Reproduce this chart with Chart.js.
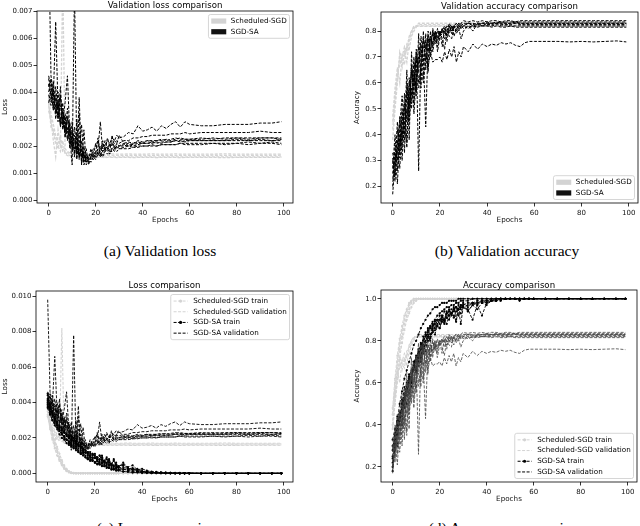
<!DOCTYPE html>
<html><head><meta charset="utf-8">
<script src="https://cdn.jsdelivr.net/npm/chart.js"></script>
<style>
html,body{margin:0;padding:0;background:#fff;overflow:hidden;width:640px;height:526px;position:relative;}
canvas{position:absolute;}
.cap{position:absolute;font-family:"Liberation Serif","Times New Roman",serif;font-size:15.5px;color:#000;white-space:nowrap;transform:translate(-50%,-50%);line-height:1;}
</style></head><body>
<canvas id="ca"></canvas>
<canvas id="cb"></canvas>
<canvas id="cc"></canvas>
<canvas id="cd"></canvas>
<div class="cap" style="left:160px;top:251px">(a) Validation loss</div>
<div class="cap" style="left:507px;top:251px">(b) Validation accuracy</div>
<div class="cap" style="left:160px;top:528px">(c) Loss comparison</div>
<div class="cap" style="left:507px;top:528px">(d) Accuracy comparison</div>
<script>
// ---------------- DATA ----------------
const epochs = [0,1,2,3,4,5,6,7,8,9,10,11,12,13,14,15,16,17,18,19,20,21,22,23,24,25,26,27,28,29,30,32,34,36,38,40,42,44,46,48,50,52,54,56,58,60,65,70,75,80,85,90,95,99];
const xTicks = [0,20,40,60,80,100];
const lossTicksA = [0,0.001,0.002,0.003,0.004,0.005,0.006,0.007];
const accTicksB = [0.2,0.3,0.4,0.5,0.6,0.7,0.8];
const lossTicksC = [0,0.002,0.004,0.006,0.008,0.010];
const accTicksD = [0.2,0.4,0.6,0.8,1.0];
const groups = ['Scheduled-SGD','SGD-SA'];

// validation loss, in units of 1e-3
const saValLoss1 = [9.8,4.6,4.0,3.2,3.6,2.9,3.3,2.6,3.0,2.4,2.2,1.9,2.4,1.7,1.9,1.6,1.5,1.7,1.6,1.9,2.0,2.2,1.9,2.1,2.0,2.2,2.1,2.3,2.2,2.4,2.3, 2.35,2.5,2.45,2.75,2.55,2.6,2.7,2.55,2.75,2.65,2.8,2.9,2.7,2.9,2.8, 2.75,2.75,2.8,2.8,2.8,2.85,2.85,2.9];
const saValLoss2 = [4.6,4.2,3.8,6.6,3.4,3.9,2.8,3.2,2.5,2.9,1.9,2.2,1.8,2.5,1.6,1.7,1.5,1.6,1.7,1.6,1.8,1.7,1.9,1.8,2.0,1.9,2.1,2.0,2.1,2.2,2.1, 2.2,2.2,2.3,2.3,2.35,2.35,2.4,2.4,2.4,2.4,2.45,2.45,2.45,2.5,2.45, 2.5,2.5,2.5,2.5,2.5,2.55,2.5,2.5];
const saValLoss3 = [4.0,4.4,3.6,3.9,3.1,3.5,2.9,3.6,4.6,2.4,1.3,7.8,1.6,3.8,1.3,2.6,1.4,1.5,1.6,1.8,1.7,1.9,2.9,1.8,1.9,2.0,1.8,2.4,1.9,2.0,2.0, 2.1,2.0,2.1,2.15,2.1,2.2,2.15,2.2,2.2,2.25,2.2,2.25,2.3,2.25,2.25, 2.3,2.25,2.3,2.3,2.3,2.3,2.3,2.3];
const saValLoss4 = [3.6,4.1,3.3,3.8,2.9,4.2,2.6,3.0,2.2,2.8,1.8,2.4,1.5,3.2,1.3,2.0,1.4,1.6,1.5,1.7,1.6,1.8,1.7,1.8,1.9,1.8,1.9,1.9,2.0,1.9,2.0, 2.0,2.05,2.0,2.05,2.1,2.1,2.1,2.15,2.1,2.15,2.15,2.2,2.15,2.2,2.2, 2.2,2.2,2.2,2.25,2.2,2.25,2.2,2.25];
const saValLoss5 = [4.3,3.7,4.1,3.0,3.7,2.7,3.4,2.3,3.1,1.9,2.6,1.6,3.0,1.5,2.2,1.3,1.6,1.4,1.6,1.5,1.6,1.7,1.6,1.7,1.8,1.7,1.8,1.8,1.9,1.8,1.9, 1.9,1.9,1.95,1.95,2.0,2.0,2.0,2.0,2.05,2.05,2.05,2.05,2.1,2.1,2.1, 2.1,2.1,2.1,2.1,2.15,2.1,2.15,2.1];
const saValLoss6 = [4.5,3.9,3.4,4.2,3.2,2.8,3.6,2.4,2.7,2.0,2.9,1.7,2.3,1.6,2.8,1.5,1.9,1.3,1.6,1.5,1.7,2.3,1.6,2.2,1.8,2.3,2.0,2.1,2.2,2.1,2.4, 2.1,2.15,2.1,2.2,2.15,2.2,2.2,2.2,2.25,2.2,2.25,2.3,2.25,2.25,2.25, 2.25,2.3,2.25,2.3,2.25,2.3,2.3,2.25];
const saValLoss7 = [4.2,4.5,3.5,3.3,4.0,3.0,2.7,3.1,2.3,2.6,2.1,1.8,2.0,1.6,1.9,1.4,1.7,1.5,1.9,1.6,2.1,1.8,2.0,1.9,2.2,1.9,2.0,2.1,1.9,2.1,2.0, 2.05,2.1,2.05,2.1,2.1,2.1,2.15,2.1,2.15,2.15,2.15,2.2,2.2,2.15,2.2, 2.2,2.2,2.2,2.2,2.2,2.2,2.2,2.2];
const saValLoss8 = [3.9,3.5,4.4,3.4,3.1,3.8,2.9,2.5,3.4,2.2,2.0,2.7,1.7,2.2,1.5,1.8,1.3,1.5,1.4,1.6,1.5,1.7,1.8,1.6,1.8,1.9,1.7,1.9,1.8,2.0,1.9, 1.95,2.0,1.95,2.0,2.0,2.0,2.05,2.0,2.05,2.05,2.05,2.05,2.1,2.05,2.05, 2.05,2.1,2.05,2.1,2.05,2.1,2.1,2.05];
const ssValLoss1 = [3.8,3.2,2.8,2.4,2.2,2.0,8.2,1.9,1.8,1.75,1.7,1.7,1.68,1.66,1.65,1.66,1.65,1.65,1.66,1.65,1.65,1.66,1.65,1.65,1.65,1.66,1.65,1.65,1.65,1.66,1.65, 1.65,1.66,1.65,1.65,1.66,1.65,1.65,1.65,1.66,1.65,1.65,1.65,1.66,1.65,1.65, 1.65,1.66,1.65,1.65,1.66,1.65,1.65,1.66];
const ssValLoss2 = [3.5,2.9,2.5,2.1,1.9,2.4,1.8,1.75,1.7,1.65,1.62,1.6,1.6,1.59,1.6,1.6,1.59,1.6,1.6,1.6,1.59,1.6,1.6,1.6,1.59,1.6,1.6,1.6,1.6,1.59,1.6, 1.6,1.6,1.59,1.6,1.6,1.6,1.6,1.59,1.6,1.6,1.6,1.6,1.6,1.59,1.6, 1.6,1.6,1.6,1.59,1.6,1.6,1.6,1.6];
const ssValLoss3 = [3.3,3.0,2.2,1.6,2.6,2.0,1.9,1.8,1.75,1.72,1.7,1.7,1.7,1.71,1.7,1.7,1.7,1.71,1.7,1.7,1.7,1.7,1.71,1.7,1.7,1.7,1.7,1.71,1.7,1.7,1.7, 1.7,1.71,1.7,1.7,1.7,1.7,1.71,1.7,1.7,1.7,1.7,1.71,1.7,1.7,1.7, 1.7,1.7,1.71,1.7,1.7,1.7,1.7,1.7];
const ssValLoss4 = [3.6,2.7,2.6,2.3,2.0,1.8,2.2,1.7,1.65,1.6,1.6,1.58,1.58,1.57,1.58,1.58,1.57,1.58,1.58,1.58,1.57,1.58,1.58,1.58,1.57,1.58,1.58,1.58,1.58,1.57,1.58, 1.58,1.58,1.57,1.58,1.58,1.58,1.58,1.57,1.58,1.58,1.58,1.58,1.57,1.58,1.58, 1.58,1.58,1.57,1.58,1.58,1.58,1.58,1.58];

// training loss, in units of 1e-3
const saTrLoss1 = [4.5,3.8,3.4,3.1,2.9,2.6,2.5,2.3,2.2,2.0,1.9,1.8,1.7,1.6,1.4,1.3,1.2,1.1,1.0,0.9,0.85,0.8,1.0,0.7,0.6,0.8,0.5,0.45,0.8,0.4,0.35, 0.6,0.3,0.2,0.25,0.1,0.1,0.05,0.05,0.03,0.02,0.02,0.01,0.01,0.01,0.01, 0,0,0,0,0,0,0,0];
const saTrLoss2 = [4.0,3.6,3.2,2.9,2.7,2.4,2.2,2.0,1.9,1.7,1.6,1.5,1.3,1.2,1.1,1.0,0.9,0.8,0.7,0.8,0.6,0.5,0.6,0.4,0.5,0.3,0.35,0.2,0.25,0.15,0.2, 0.1,0.12,0.05,0.08,0.03,0.03,0.02,0.02,0.01,0.01,0.01,0.01,0,0,0, 0,0,0,0,0,0,0,0];
const saTrLoss3 = [3.8,3.5,3.3,3.0,2.8,2.6,2.4,2.3,2.1,2.0,1.9,2.0,1.8,1.6,1.5,1.4,1.3,1.2,1.1,1.0,1.1,0.9,0.8,1.0,0.7,0.6,0.8,0.5,0.45,0.6,0.4, 0.45,0.25,0.3,0.15,0.12,0.08,0.05,0.04,0.03,0.02,0.02,0.01,0.01,0.01,0.01, 0,0,0,0,0,0,0,0];
const saTrLoss4 = [4.2,3.7,3.3,3.0,2.7,2.5,2.3,2.1,1.9,1.8,1.6,1.5,1.4,1.3,1.2,1.1,1.0,0.9,0.8,0.7,0.65,0.55,0.5,0.45,0.4,0.35,0.3,0.25,0.2,0.18,0.15, 0.1,0.08,0.05,0.04,0.03,0.02,0.01,0.01,0.01,0,0,0,0,0,0, 0,0,0,0,0,0,0,0];
const saTrLoss5 = [3.9,3.4,3.0,2.7,2.5,2.2,2.0,1.9,1.7,1.6,1.5,1.4,1.5,1.2,1.1,1.2,0.9,0.8,0.9,0.7,0.6,0.7,0.5,0.55,0.4,0.45,0.3,0.35,0.25,0.3,0.2, 0.25,0.15,0.2,0.1,0.08,0.06,0.04,0.03,0.02,0.02,0.01,0.01,0.01,0,0, 0,0,0,0,0,0,0,0];
const saTrLoss6 = [4.4,3.9,3.5,3.2,2.9,2.7,2.6,2.4,2.2,2.1,2.0,1.8,1.7,1.6,1.5,1.4,1.3,1.2,1.2,1.1,1.0,0.9,1.0,0.8,0.7,0.9,0.6,0.55,0.7,0.45,0.4, 0.5,0.35,0.45,0.2,0.25,0.15,0.1,0.08,0.06,0.04,0.03,0.02,0.02,0.01,0.01, 0,0,0,0,0,0,0,0];
const saTrLoss7 = [4.1,3.7,3.4,3.1,2.8,2.6,2.5,2.3,2.1,2.0,1.8,1.7,1.6,1.5,1.6,1.3,1.2,1.1,1.0,1.1,0.9,0.8,0.75,0.9,0.6,0.55,0.7,0.45,0.4,0.5,0.3, 0.35,0.2,0.25,0.12,0.1,0.06,0.05,0.03,0.02,0.02,0.01,0.01,0,0,0, 0,0,0,0,0,0,0,0];
const saTrLoss8 = [3.7,3.3,3.0,2.8,2.6,2.4,2.2,2.1,1.9,1.8,1.7,1.6,1.5,1.4,1.3,1.2,1.15,1.0,0.95,0.85,0.9,0.7,0.65,0.6,0.7,0.5,0.45,0.5,0.35,0.3,0.35, 0.2,0.25,0.12,0.1,0.08,0.05,0.03,0.02,0.02,0.01,0.01,0,0,0,0, 0,0,0,0,0,0,0,0];
const ssTrLoss1 = [3.5,2.8,2.2,1.7,1.3,0.9,0.6,0.35,0.2,0.1,0.03,0.01, 0,0,0,0,0,0,0,0,0,0, 0,0,0,0,0,0,0,0,0,0, 0,0,0,0,0,0,0,0,0,0, 0,0,0,0,0,0,0,0,0,0, 0,0];
const ssTrLoss2 = [3.2,2.6,2.0,1.6,1.2,0.8,0.5,0.3,0.15,0.06,0.02, 0,0,0,0,0,0,0,0,0,0, 0,0,0,0,0,0,0,0,0,0, 0,0,0,0,0,0,0,0,0,0, 0,0,0,0,0,0,0,0,0,0, 0,0,0];
const ssTrLoss3 = [3.7,3.0,2.4,1.9,1.5,1.1,0.75,0.45,0.25,0.12,0.05,0.02, 0,0,0,0,0,0,0,0,0,0, 0,0,0,0,0,0,0,0,0,0, 0,0,0,0,0,0,0,0,0,0, 0,0,0,0,0,0,0,0,0,0, 0,0];
const ssTrLoss4 = [3.3,2.5,1.9,1.4,1.0,0.7,0.45,0.25,0.12,0.05,0.01, 0,0,0,0,0,0,0,0,0,0, 0,0,0,0,0,0,0,0,0,0, 0,0,0,0,0,0,0,0,0,0, 0,0,0,0,0,0,0,0,0,0, 0,0,0];

// validation accuracy
const saValAcc1 = [0.17,0.3,0.35,0.27,0.42,0.38,0.5,0.45,0.58,0.52,0.62,0.58,0.66,0.6,0.7,0.66,0.72,0.68,0.69,0.69,0.7,0.68,0.72,0.69,0.73,0.7,0.74,0.68,0.72,0.7,0.74, 0.72,0.75,0.73,0.75,0.74,0.75,0.745,0.755,0.75,0.755,0.745,0.74,0.755,0.76,0.76, 0.76,0.76,0.758,0.76,0.758,0.76,0.762,0.758];
const saValAcc2 = [0.25,0.33,0.21,0.4,0.35,0.52,0.45,0.6,0.55,0.68,0.62,0.74,0.7,0.77,0.73,0.78,0.76,0.79,0.77,0.8,0.78,0.79,0.8,0.78,0.8,0.81,0.8,0.81,0.82,0.81,0.82, 0.81,0.82,0.815,0.82,0.82,0.815,0.82,0.815,0.815,0.82,0.815,0.815,0.815,0.815,0.815, 0.815,0.815,0.815,0.815,0.815,0.815,0.815,0.815];
const saValAcc3 = [0.3,0.22,0.38,0.33,0.46,0.4,0.56,0.5,0.64,0.58,0.72,0.26,0.74,0.68,0.76,0.72,0.78,0.75,0.8,0.77,0.79,0.81,0.79,0.82,0.8,0.82,0.81,0.82,0.83,0.82,0.83, 0.83,0.825,0.83,0.83,0.835,0.83,0.83,0.835,0.83,0.83,0.835,0.83,0.83,0.83,0.83, 0.83,0.83,0.83,0.83,0.83,0.83,0.83,0.83];
const saValAcc4 = [0.33,0.28,0.45,0.35,0.5,0.33,0.6,0.52,0.66,0.6,0.7,0.64,0.78,0.7,0.43,0.76,0.73,0.8,0.76,0.81,0.78,0.8,0.82,0.8,0.83,0.81,0.82,0.83,0.82,0.83,0.84, 0.835,0.84,0.835,0.84,0.835,0.84,0.84,0.835,0.84,0.84,0.835,0.84,0.84,0.84,0.84, 0.84,0.84,0.84,0.84,0.84,0.84,0.84,0.84];
const saValAcc5 = [0.2,0.36,0.3,0.47,0.38,0.56,0.37,0.62,0.52,0.7,0.55,0.79,0.58,0.8,0.65,0.8,0.72,0.81,0.75,0.78,0.8,0.74,0.81,0.76,0.82,0.79,0.82,0.8,0.83,0.81,0.82, 0.83,0.82,0.825,0.83,0.825,0.825,0.83,0.825,0.825,0.825,0.83,0.825,0.825,0.825,0.825, 0.825,0.825,0.825,0.825,0.825,0.825,0.825,0.825];
const saValAcc6 = [0.27,0.4,0.26,0.44,0.55,0.42,0.65,0.38,0.72,0.48,0.62,0.68,0.75,0.62,0.79,0.64,0.8,0.72,0.78,0.74,0.8,0.77,0.73,0.8,0.78,0.77,0.82,0.79,0.81,0.77,0.8, 0.82,0.8,0.83,0.82,0.83,0.83,0.835,0.83,0.835,0.835,0.835,0.835,0.835,0.835,0.835, 0.835,0.835,0.835,0.835,0.835,0.835,0.835,0.835];
const saValAcc7 = [0.23,0.27,0.42,0.31,0.49,0.44,0.35,0.58,0.5,0.64,0.57,0.7,0.66,0.74,0.71,0.69,0.77,0.74,0.79,0.76,0.8,0.79,0.81,0.8,0.82,0.8,0.82,0.83,0.81,0.83,0.82, 0.83,0.83,0.825,0.83,0.83,0.83,0.83,0.83,0.83,0.83,0.83,0.83,0.83,0.83,0.83, 0.83,0.83,0.83,0.83,0.83,0.83,0.83,0.83];
const saValAcc8 = [0.31,0.24,0.35,0.46,0.3,0.5,0.57,0.47,0.67,0.55,0.73,0.6,0.66,0.77,0.69,0.78,0.7,0.76,0.8,0.72,0.78,0.81,0.77,0.8,0.79,0.82,0.78,0.81,0.8,0.82,0.81, 0.82,0.815,0.82,0.82,0.82,0.82,0.825,0.82,0.82,0.82,0.82,0.82,0.82,0.82,0.82, 0.82,0.82,0.82,0.82,0.82,0.82,0.82,0.82];
const ssValAcc1 = [0.42,0.55,0.62,0.7,0.66,0.72,0.68,0.76,0.79,0.81,0.82, 0.82,0.82,0.82,0.82,0.82,0.82,0.82,0.82,0.82,0.82, 0.82,0.82,0.82,0.82,0.82,0.82,0.82,0.82,0.82,0.82, 0.82,0.82,0.82,0.82,0.82,0.82,0.82,0.82,0.82,0.82, 0.82,0.82,0.82,0.82,0.82,0.82,0.82,0.82,0.82,0.82, 0.82,0.82,0.82];
const ssValAcc2 = [0.47,0.58,0.66,0.6,0.7,0.74,0.72,0.78,0.8,0.815,0.82, 0.825,0.825,0.825,0.825,0.825,0.825,0.825,0.825,0.825,0.825, 0.825,0.825,0.825,0.825,0.825,0.825,0.825,0.825,0.825,0.825, 0.825,0.825,0.825,0.825,0.825,0.825,0.825,0.825,0.825,0.825, 0.825,0.825,0.825,0.825,0.825,0.825,0.825,0.825,0.825,0.825, 0.825,0.825,0.825];
const ssValAcc3 = [0.38,0.5,0.6,0.72,0.69,0.67,0.75,0.77,0.8,0.82,0.818, 0.818,0.818,0.818,0.818,0.818,0.818,0.818,0.818,0.818,0.818, 0.818,0.818,0.818,0.818,0.818,0.818,0.818,0.818,0.818,0.818, 0.818,0.818,0.818,0.818,0.818,0.818,0.818,0.818,0.818,0.818, 0.818,0.818,0.818,0.818,0.818,0.818,0.818,0.818,0.818,0.818, 0.818,0.818,0.818];
const ssValAcc4 = [0.45,0.53,0.64,0.67,0.71,0.7,0.74,0.73,0.78,0.8,0.815, 0.83,0.83,0.83,0.83,0.83,0.83,0.83,0.83,0.83,0.83, 0.83,0.83,0.83,0.83,0.83,0.83,0.83,0.83,0.83,0.83, 0.83,0.83,0.83,0.83,0.83,0.83,0.83,0.83,0.83,0.83, 0.83,0.83,0.83,0.83,0.83,0.83,0.83,0.83,0.83,0.83, 0.83,0.83,0.83];

// training accuracy
const saTrAcc1 = [0.18,0.3,0.38,0.44,0.5,0.55,0.6,0.63,0.66,0.7,0.72,0.74,0.77,0.8,0.82,0.84,0.86,0.87,0.89,0.9,0.9,0.92,0.9,0.93,0.94,0.92,0.95,0.96,0.92,0.96,0.97, 0.94,0.97,0.98,0.98,0.99,0.99,0.99,1,1,1,1,1,1,1,1, 1,1,1,1,1,1,1,1];
const saTrAcc2 = [0.25,0.35,0.42,0.5,0.56,0.62,0.66,0.7,0.74,0.78,0.8,0.83,0.86,0.88,0.9,0.92,0.93,0.95,0.96,0.96,0.97,0.98,0.98,0.98,0.99,0.99,0.99,0.99,1,1,1, 1,1,1,1,1,1,1,1,1,1,1,1,1,1,1, 1,1,1,1,1,1,1,1];
const saTrAcc3 = [0.3,0.33,0.4,0.45,0.48,0.53,0.56,0.6,0.63,0.66,0.7,0.68,0.73,0.76,0.78,0.8,0.82,0.84,0.85,0.87,0.86,0.89,0.9,0.88,0.92,0.93,0.91,0.94,0.95,0.88,0.96, 0.95,0.9,0.97,0.92,0.98,0.99,0.99,0.99,1,1,1,1,1,1,1, 1,1,1,1,1,1,1,1];
const saTrAcc4 = [0.22,0.28,0.36,0.42,0.47,0.5,0.56,0.6,0.64,0.68,0.71,0.75,0.78,0.8,0.83,0.85,0.87,0.89,0.9,0.92,0.93,0.94,0.95,0.96,0.96,0.97,0.97,0.98,0.98,0.99,0.99, 0.99,1,1,1,1,1,1,1,1,1,1,1,1,1,1, 1,1,1,1,1,1,1,1];
const saTrAcc5 = [0.2,0.32,0.3,0.45,0.4,0.55,0.5,0.62,0.58,0.7,0.66,0.76,0.72,0.82,0.78,0.86,0.83,0.88,0.86,0.9,0.88,0.92,0.9,0.94,0.92,0.95,0.94,0.96,0.95,0.97,0.96, 0.97,0.98,0.98,0.99,0.99,0.99,1,1,1,1,1,1,1,1,1, 1,1,1,1,1,1,1,1];
const saTrAcc6 = [0.28,0.36,0.44,0.4,0.5,0.58,0.54,0.64,0.6,0.7,0.66,0.74,0.7,0.78,0.75,0.82,0.8,0.85,0.83,0.87,0.86,0.9,0.88,0.91,0.9,0.93,0.92,0.89,0.95,0.93,0.96, 0.94,0.97,0.95,0.98,0.97,0.99,0.99,1,1,1,1,0.99,1,1,1, 1,1,1,1,1,1,1,1];
const saTrAcc7 = [0.24,0.31,0.38,0.46,0.44,0.52,0.58,0.55,0.63,0.67,0.65,0.72,0.76,0.74,0.8,0.83,0.81,0.86,0.88,0.87,0.9,0.91,0.89,0.93,0.94,0.93,0.95,0.96,0.95,0.97,0.97, 0.98,0.98,0.99,0.99,0.99,1,1,1,1,1,1,1,1,1,1, 1,1,1,1,1,1,1,1];
const saTrAcc8 = [0.33,0.38,0.35,0.43,0.52,0.48,0.57,0.62,0.6,0.68,0.73,0.7,0.79,0.76,0.84,0.8,0.87,0.85,0.9,0.88,0.92,0.9,0.94,0.91,0.95,0.93,0.96,0.9,0.97,0.95,0.98, 0.96,0.98,0.97,0.99,0.98,0.99,1,1,1,1,1,1,1,1,1, 1,1,1,1,1,1,1,1];
const ssTrAcc1 = [0.4,0.55,0.67,0.76,0.82,0.88,0.92,0.95,0.98,0.99,1, 1,1,1,1,1,1,1,1,1,1, 1,1,1,1,1,1,1,1,1,1, 1,1,1,1,1,1,1,1,1,1, 1,1,1,1,1,1,1,1,1,1, 1,1,1];
const ssTrAcc2 = [0.45,0.6,0.7,0.79,0.85,0.9,0.94,0.97,0.99,1,1, 1,1,1,1,1,1,1,1,1,1, 1,1,1,1,1,1,1,1,1,1, 1,1,1,1,1,1,1,1,1,1, 1,1,1,1,1,1,1,1,1,1, 1,1,1];
const ssTrAcc3 = [0.38,0.5,0.62,0.72,0.79,0.85,0.9,0.93,0.96,0.98,0.99,1, 1,1,1,1,1,1,1,1,1,1, 1,1,1,1,1,1,1,1,1,1, 1,1,1,1,1,1,1,1,1,1, 1,1,1,1,1,1,1,1,1,1, 1,1];
const ssTrAcc4 = [0.48,0.62,0.73,0.81,0.87,0.92,0.95,0.98,0.99,1,1, 1,1,1,1,1,1,1,1,1,1, 1,1,1,1,1,1,1,1,1,1, 1,1,1,1,1,1,1,1,1,1, 1,1,1,1,1,1,1,1,1,1, 1,1,1];

// ---------------- BUILD ----------------
const milli = a => a.map(v => v / 1000);
const saValLoss = [saValLoss1,saValLoss2,saValLoss3,saValLoss4,saValLoss5,saValLoss6,saValLoss7,saValLoss8].map(milli);
const ssValLoss = [ssValLoss1,ssValLoss2,ssValLoss3,ssValLoss4].map(milli);
const saTrLoss = [saTrLoss1,saTrLoss2,saTrLoss3,saTrLoss4,saTrLoss5,saTrLoss6,saTrLoss7,saTrLoss8].map(milli);
const ssTrLoss = [ssTrLoss1,ssTrLoss2,ssTrLoss3,ssTrLoss4].map(milli);
const saValAcc = [saValAcc1,saValAcc2,saValAcc3,saValAcc4,saValAcc5,saValAcc6,saValAcc7,saValAcc8];
const ssValAcc = [ssValAcc1,ssValAcc2,ssValAcc3,ssValAcc4];
const saTrAcc = [saTrAcc1,saTrAcc2,saTrAcc3,saTrAcc4,saTrAcc5,saTrAcc6,saTrAcc7,saTrAcc8];
const ssTrAcc = [ssTrAcc1,ssTrAcc2,ssTrAcc3,ssTrAcc4];

const GRAY = '#d3d3d3', BLACK = '#000000';
function series(vals, color, width, order, marker, label) {
  return {
    label: label,
    data: epochs.map((e, i) => ({x: e, y: vals[i]})),
    borderColor: color, backgroundColor: color, borderWidth: width,
    borderDash: [3, 1.5], tension: 0, fill: false, order: order,
    pointRadius: marker ? 1.1 : 0, pointHoverRadius: 0,
    pointBackgroundColor: color, pointBorderWidth: 0
  };
}
function many(list, color, width, order, marker, label) {
  return list.map(v => series(v, color, width, order, marker, label));
}

const decoPlugin = {
  id: 'deco',
  afterDatasetsDraw(chart, args, o) {
    const ctx = chart.ctx, ca = chart.chartArea;
    ctx.save();
    ctx.setLineDash([]);
    ctx.strokeStyle = '#000'; ctx.lineWidth = 0.8;
    ctx.strokeRect(ca.left, ca.top, ca.right - ca.left, ca.bottom - ca.top);
    ctx.fillStyle = '#000'; ctx.font = '8.6px "DejaVu Sans"';
    ctx.textAlign = 'center'; ctx.textBaseline = 'middle';
    ctx.fillText(o.title, (ca.left + ca.right) / 2, Math.max(ca.top - 5.5, 6));
    const L = o.legend;
    ctx.font = '7.2px "DejaVu Sans"';
    const pad = 2.8, hl = 14, tp = 5.6, rowH = 7.5, sp = 3.2;
    let tw = 0; L.items.forEach(it => { tw = Math.max(tw, ctx.measureText(it.label).width); });
    const n = L.items.length;
    const w = pad * 2 + hl + tp + tw, h = pad * 2 + n * rowH + (n - 1) * sp;
    const x = ca.right - 3.5 - w;
    const y = L.loc === 'upper' ? ca.top + 3.5 : ca.bottom - 3.5 - h;
    ctx.beginPath();
    if (ctx.roundRect) ctx.roundRect(x, y, w, h, 2); else ctx.rect(x, y, w, h);
    ctx.fillStyle = 'rgba(255,255,255,0.85)'; ctx.fill();
    ctx.strokeStyle = '#cccccc'; ctx.lineWidth = 0.8; ctx.stroke();
    L.items.forEach((it, i) => {
      const cy = y + pad + rowH / 2 + i * (rowH + sp);
      const hx = x + pad;
      if (it.kind === 'patch') {
        ctx.fillStyle = it.color; ctx.fillRect(hx, cy - 2.6, hl + 1, 5.2);
      } else {
        ctx.strokeStyle = it.color; ctx.lineWidth = 1; ctx.setLineDash([3, 1.5]);
        ctx.beginPath(); ctx.moveTo(hx, cy); ctx.lineTo(hx + hl, cy); ctx.stroke();
        ctx.setLineDash([]);
        if (it.kind === 'marker') {
          ctx.fillStyle = it.color; ctx.beginPath(); ctx.arc(hx + hl / 2, cy, 1.6, 0, Math.PI * 2); ctx.fill();
        }
      }
      ctx.fillStyle = '#000'; ctx.textAlign = 'left'; ctx.textBaseline = 'middle';
      ctx.fillText(it.label, hx + hl + tp, cy);
    });
    ctx.restore();
  }
};

function axis(fixed, isX, min, max, ticks, label, fmt, titlePad) {
  return {
    type: 'linear', min: min, max: max,
    afterFit(s) { if (isX) s.height = fixed; else s.width = fixed; },
    afterBuildTicks(s) { s.ticks = ticks.map(v => ({value: v})); },
    grid: {drawOnChartArea: false, drawTicks: true, tickLength: 3.5, color: '#000', lineWidth: 0.8},
    border: {display: false},
    ticks: {font: {family: 'DejaVu Sans', size: 7}, color: '#111', padding: isX ? 2 : 1,
            autoSkip: false, maxRotation: 0, callback: fmt},
    title: {display: true, text: label, font: {family: 'DejaVu Sans', size: 7.2}, color: '#111', padding: titlePad}
  };
}

function makeChart(id, g, datasets, xLabel, yLabel, yMin, yMax, yTicks, yFmt, title, legend) {
  const c = document.getElementById(id);
  c.style.left = g.left + 'px'; c.style.top = g.top + 'px';
  c.width = g.w; c.height = g.h;
  c.style.width = g.w + 'px'; c.style.height = g.h + 'px';
  return new Chart(c, {
    type: 'line',
    data: {datasets: datasets},
    plugins: [decoPlugin],
    options: {
      responsive: false, animation: false, devicePixelRatio: 1,
      layout: {padding: {top: g.pt, right: g.pr, left: 0, bottom: 0}},
      events: [],
      plugins: {legend: {display: false}, tooltip: {enabled: false}, title: {display: false},
                deco: {title: title, legend: legend}},
      scales: {
        x: axis(g.xh, true, -4.95, 103.95, xTicks, xLabel, v => String(v), {top: 0, bottom: 1.8}),
        y: axis(g.yw, false, yMin, yMax, yTicks, yLabel, yFmt, {top: 1, bottom: 0})
      }
    }
  });
}

const f3 = v => v.toFixed(3), f1 = v => v.toFixed(1);
const legendAB = loc => ({loc: loc, items: [
  {label: groups[0], kind: 'patch', color: GRAY},
  {label: groups[1], kind: 'patch', color: '#111'}]});
const legendCD = loc => ({loc: loc, items: [
  {label: groups[0] + ' train', kind: 'marker', color: GRAY},
  {label: groups[0] + ' validation', kind: 'line', color: GRAY},
  {label: groups[1] + ' train', kind: 'marker', color: BLACK},
  {label: groups[1] + ' validation', kind: 'line', color: BLACK}]});

makeChart('ca', {left: 0, top: 0, w: 300, h: 226, pt: 11, pr: 7, yw: 37, xh: 23},
  [...many(ssValLoss, GRAY, 1.3, 1, false, groups[0]), ...many(saValLoss, BLACK, 1.0, 0, false, groups[1])],
  'Epochs', 'Loss', -0.00011, 0.007, lossTicksA, f3, 'Validation loss comparison', legendAB('upper'));

makeChart('cb', {left: 352, top: 0, w: 288, h: 226, pt: 12, pr: 2, yw: 29, xh: 23},
  [...many(ssValAcc, GRAY, 1.3, 1, false, groups[0]), ...many(saValAcc, BLACK, 1.0, 0, false, groups[1])],
  'Epochs', 'Accuracy', 0.1365, 0.8735, accTicksB, f1, 'Validation accuracy comparison', legendAB('lower'));

makeChart('cc', {left: 0, top: 280, w: 300, h: 225, pt: 11, pr: 7, yw: 36, xh: 23},
  [...many(ssTrLoss, GRAY, 1.1, 3, true, groups[0] + ' train'), ...many(ssValLoss, GRAY, 1.1, 2, false, groups[0] + ' validation'),
   ...many(saTrLoss, BLACK, 0.9, 1, true, groups[1] + ' train'), ...many(saValLoss, BLACK, 0.9, 0, false, groups[1] + ' validation')],
  'Epochs', 'Loss', -0.00049, 0.01029, lossTicksC, f3, 'Loss comparison', legendCD('upper'));

makeChart('cd', {left: 352, top: 280, w: 288, h: 225, pt: 10, pr: 3, yw: 29, xh: 23},
  [...many(ssTrAcc, GRAY, 1.1, 3, true, groups[0] + ' train'), ...many(ssValAcc, GRAY, 1.1, 2, false, groups[0] + ' validation'),
   ...many(saTrAcc, BLACK, 0.9, 1, true, groups[1] + ' train'), ...many(saValAcc, '#444444', 0.8, 0, false, groups[1] + ' validation')],
  'Epochs', 'Accuracy', 0.1285, 1.0415, accTicksD, f1, 'Accuracy comparison', legendCD('lower'));
</script>
</body></html>
